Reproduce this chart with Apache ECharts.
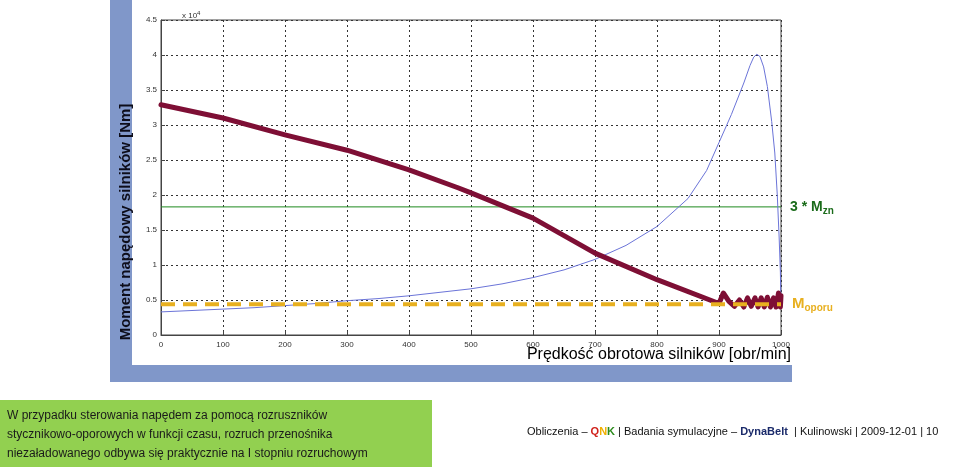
<!DOCTYPE html>
<html><head><meta charset="utf-8">
<script src="https://cdn.jsdelivr.net/npm/echarts@6/dist/echarts.min.js"></script>
<style>html,body{margin:0;padding:0;background:#fff}#c{width:960px;height:467px}</style>
</head><body><div id="c"></div>
<script>
// speed [obr/min], torque [Nm]
const motorX = [0,50,100,150,200,250,300,350,400,450,500,550,600,650,700,750,800,850,880,900,920,940,950,956,961,966,972,978,985,990,994,997,999,1000];
const motorY = [3300,3500,3700,3900,4200,4500,4900,5200,5600,6100,6600,7300,8200,9300,10800,12800,15500,19500,23500,27500,31500,36000,38500,39700,40100,39800,38300,35500,30500,26000,20000,14000,9000,4000];
const driveX = [0,100,200,300,400,480,500,600,620,700,800,900,907,916,925,933,940,946,952,958,963,968,973,978,983,988,992,996,999,1000];
const driveY = [32900,31000,28600,26400,23600,21000,20300,16700,15700,11700,7900,4500,6000,4800,4100,5000,4000,5300,4100,5300,4000,5300,4000,5400,4000,5300,4000,6000,4000,5600];
const mznX = [0,1000];
const mznY = [18300,18300];
const oporX = [0,1000];
const oporY = [4400,4400];
const xTicks = [0,100,200,300,400,500,600,700,800,900,1000];
const yTickLabels = ['0','0.5','1','1.5','2','2.5','3','3.5','4','4.5'];

const pair = (xs, ys) => xs.map((x, i) => [x, ys[i]]);
const chart = echarts.init(document.getElementById('c'), null, {renderer:'canvas'});
const tickFont = {fontFamily:'Liberation Sans', fontSize:8, color:'#333'};
chart.setOption({
  animation:false,
  backgroundColor:'#fff',
  grid:{left:161, right:179, top:20, bottom:132, show:true, borderColor:'#444', borderWidth:1, backgroundColor:'#fff'},
  xAxis:{type:'value', min:0, max:1000, interval:100,
    axisLine:{show:true, lineStyle:{color:'#444'}},
    axisTick:{show:true, inside:true, length:4, lineStyle:{color:'#444'}},
    axisLabel:Object.assign({margin:6, formatter:v => xTicks.includes(v) ? String(v) : ''}, tickFont),
    splitLine:{show:true, lineStyle:{color:'#333', type:[2,3], width:1}}},
  yAxis:{type:'value', min:0, max:45000, interval:5000,
    axisLine:{show:true, lineStyle:{color:'#444'}},
    axisTick:{show:true, inside:true, length:4, lineStyle:{color:'#444'}},
    axisLabel:Object.assign({margin:4, formatter:v => yTickLabels[Math.round(v/5000)]}, tickFont),
    splitLine:{show:true, lineStyle:{color:'#333', type:[2,3], width:1}}},
  series:[
    {type:'line', data:pair(motorX, motorY), symbol:'none', lineStyle:{color:'#6b74d8', width:1}, z:3},
    {type:'line', data:pair(mznX, mznY), symbol:'none', lineStyle:{color:'#1e8a1e', width:1}, z:2,
      endLabel:{show:true, distance:9, formatter:'{a|3 * M}{b|zn}',
        rich:{a:{fontFamily:'Liberation Sans', fontWeight:'bold', fontSize:14, color:'#1a6b1a'},
              b:{fontFamily:'Liberation Sans', fontWeight:'bold', fontSize:10, color:'#1a6b1a', padding:[8,0,0,0]}}}},
    {type:'line', data:pair(driveX, driveY), symbol:'none', lineStyle:{color:'#7e0f35', width:5, join:'round', cap:'round'}, z:4},
    {type:'line', data:pair(oporX, oporY), symbol:'none', lineStyle:{color:'#e8b020', width:4, type:[14,8]}, z:5,
      endLabel:{show:true, distance:11, formatter:'{a|M}{b|oporu}',
        rich:{a:{fontFamily:'Liberation Sans', fontWeight:'bold', fontSize:15, color:'#e8b020'},
              b:{fontFamily:'Liberation Sans', fontWeight:'bold', fontSize:10, color:'#e8b020', padding:[9,0,0,0]}}}}
  ],
  graphic:[
    {type:'rect', z:-10, shape:{x:110, y:0, width:22, height:382}, style:{fill:'#8097c9'}},
    {type:'rect', z:-10, shape:{x:110, y:365, width:682, height:17}, style:{fill:'#8097c9'}},
    {type:'text', z:10, x:182, y:10, style:{text:'{a|x 10}{b|4}', rich:{a:{fontFamily:'Liberation Sans', fontSize:8, fill:'#333'}, b:{fontFamily:'Liberation Sans', fontSize:6, fill:'#333', padding:[0,0,6,0]}}}},
    {type:'text', z:10, x:126, y:222, rotation:Math.PI/2, style:{text:'Moment napędowy silników [Nm]', fontFamily:'Liberation Sans', fontWeight:'bold', fontSize:15, fill:'#0d0d1a', align:'center', verticalAlign:'middle'}},
    {type:'text', z:10, x:791, y:355, style:{text:'Prędkość obrotowa silników [obr/min]', fontFamily:'Liberation Sans', fontSize:16, fill:'#000', align:'right', verticalAlign:'middle'}},
    {type:'rect', z:-10, shape:{x:0, y:400, width:432, height:67}, style:{fill:'#92d050'}},
    {type:'text', z:10, x:7, y:406, style:{text:'W przypadku sterowania napędem za pomocą rozruszników\nstycznikowo-oporowych w funkcji czasu, rozruch przenośnika\nniezaładowanego odbywa się praktycznie na I stopniu rozruchowym', fontFamily:'Liberation Sans', fontSize:12, lineHeight:19, fill:'#1a1a1a', verticalAlign:'top'}},
    {type:'text', z:10, x:527, y:432, style:{text:'{n|Obliczenia – }{q|Q}{y|N}{k|K}{n| | Badania symulacyjne – }{d|DynaBelt}{n|  | Kulinowski | 2009-12-01 | 10}', verticalAlign:'middle',
      rich:{n:{fontFamily:'Liberation Sans', fontSize:11, fill:'#111'},
            q:{fontFamily:'Liberation Sans', fontSize:11, fontWeight:'bold', fill:'#d0201a'},
            y:{fontFamily:'Liberation Sans', fontSize:11, fontWeight:'bold', fill:'#f0b000'},
            k:{fontFamily:'Liberation Sans', fontSize:11, fontWeight:'bold', fill:'#2a8a1a'},
            d:{fontFamily:'Liberation Sans', fontSize:11, fontWeight:'bold', fill:'#1a2a6a'}}}}
  ]
});
</script></body></html>
